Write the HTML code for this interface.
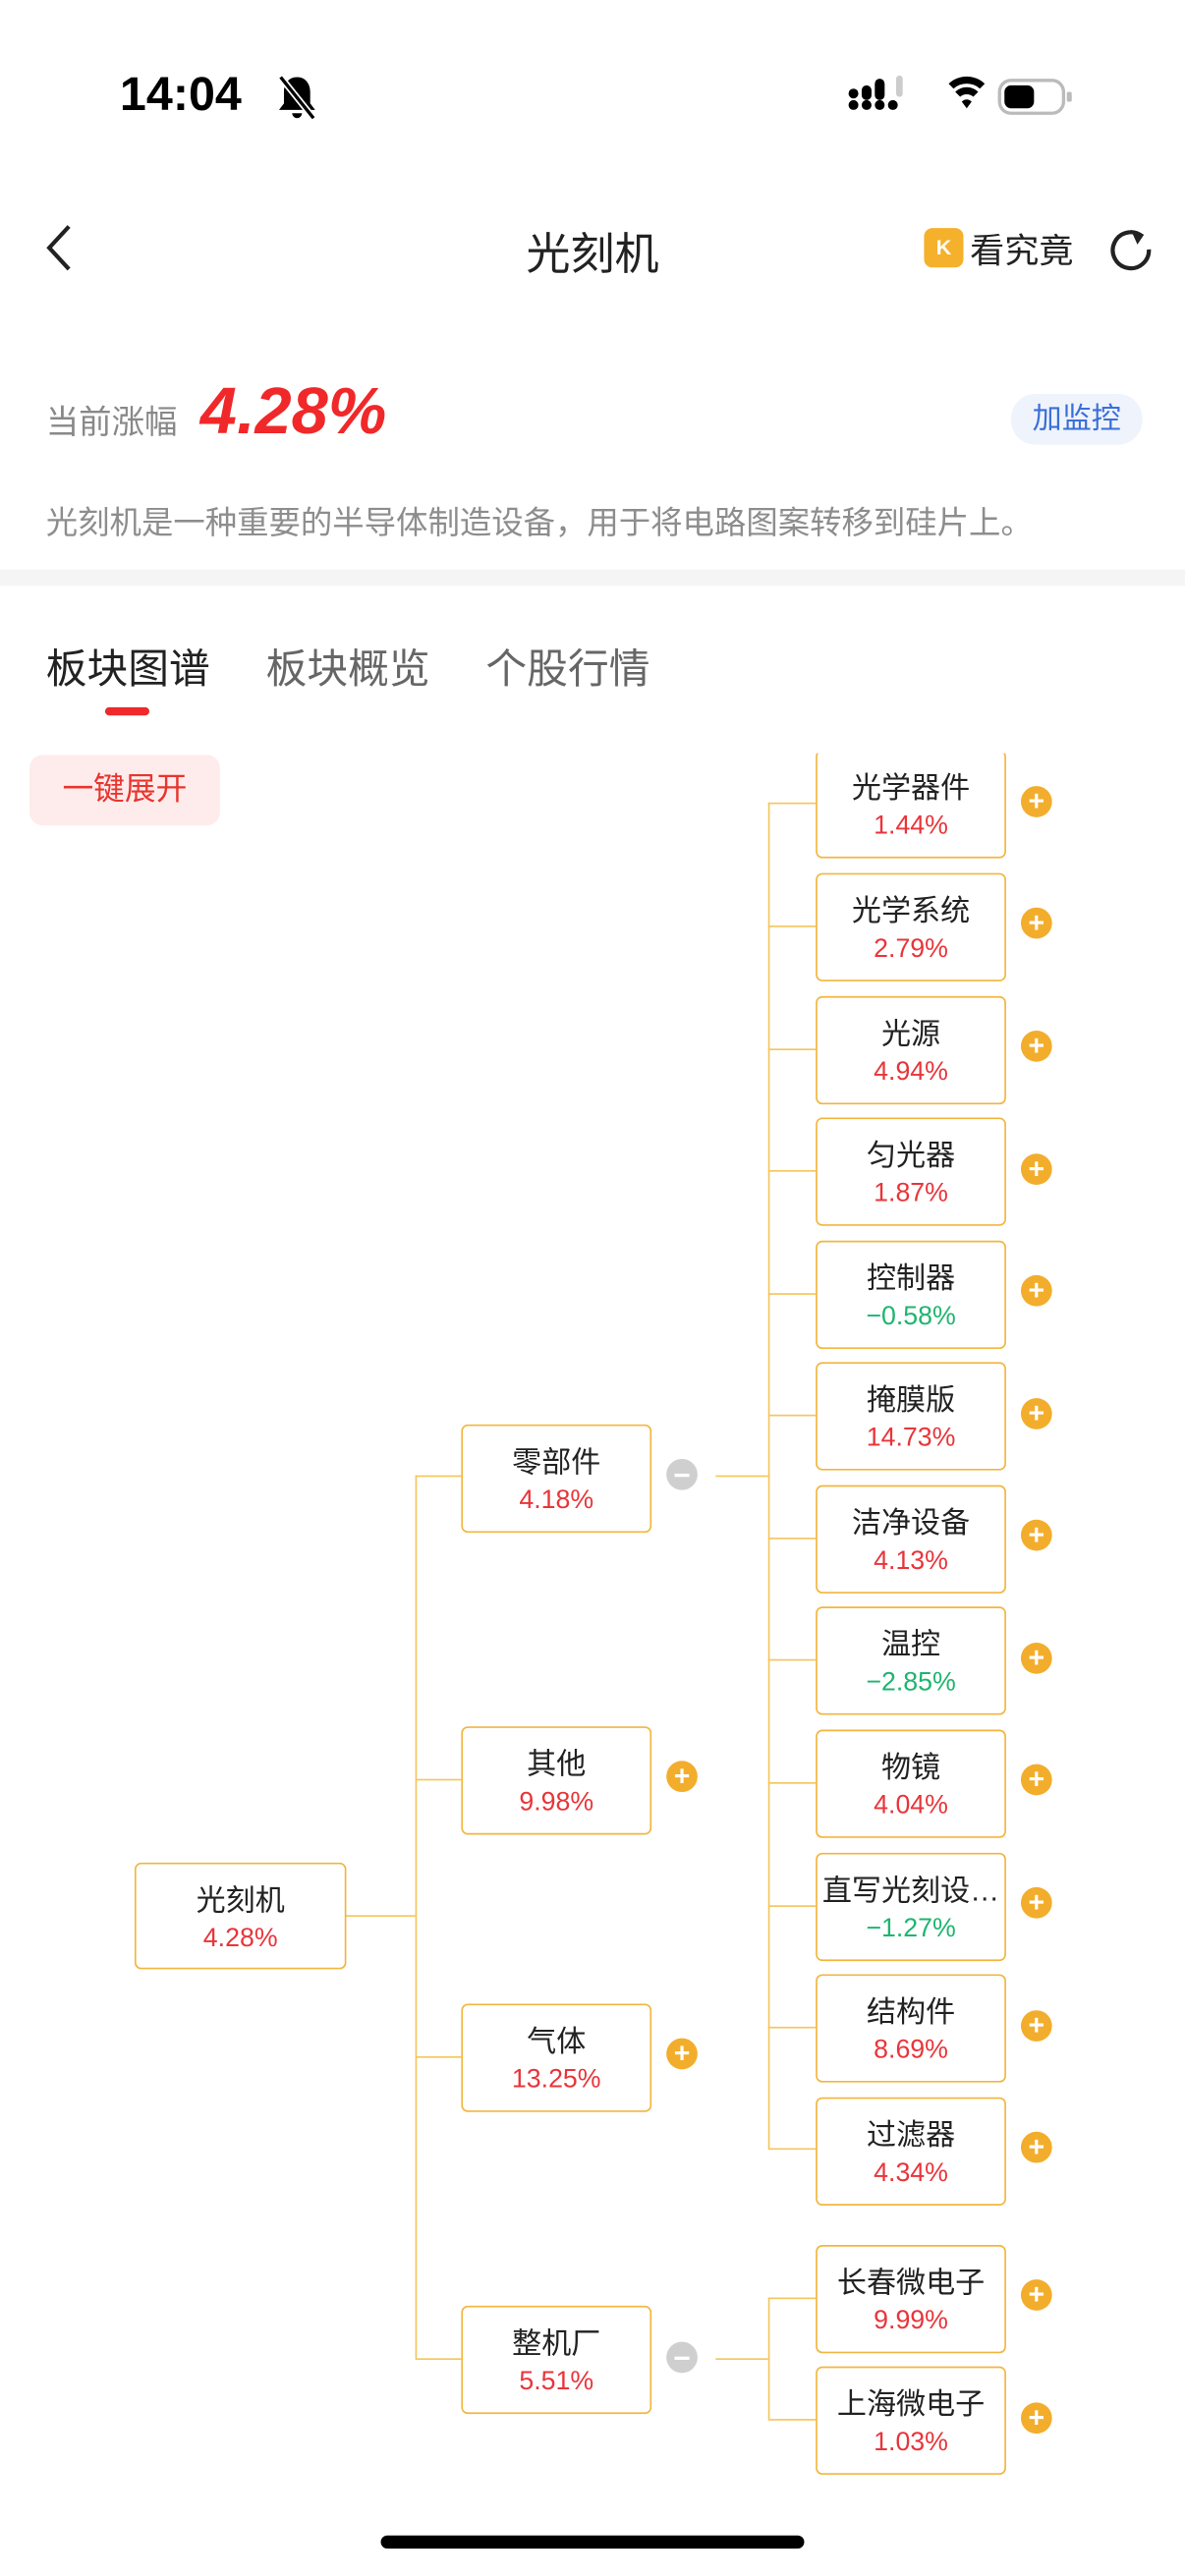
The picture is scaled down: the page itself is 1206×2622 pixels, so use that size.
<!DOCTYPE html>
<html><head><meta charset="utf-8"><style>
html,body{margin:0;padding:0;background:#fff;}
body{width:1206px;height:2622px;overflow:hidden;position:relative;}
#c{position:absolute;left:0;top:0;width:722px;height:1570px;transform:scale(1.67036);transform-origin:0 0;font-family:"Liberation Sans","Noto Sans CJK SC",sans-serif;}
.a{position:absolute;}
.box{position:absolute;background:#fff;border:1.5px solid #f2b640;border-radius:4px;box-sizing:border-box;text-align:center;}
.box .n{position:absolute;left:0;right:0;top:11px;font-size:18px;color:#222;line-height:22px;white-space:nowrap;}
.box .p{position:absolute;left:0;right:0;top:36px;font-size:16px;color:#e8353a;line-height:20px;}
.box .g{color:#1db56f;}
.l{position:absolute;background:#f4c65f;}
.plus{position:absolute;width:19px;height:19px;border-radius:50%;background:#f3ad2c;color:#fff;font-size:17px;line-height:19px;text-align:center;font-weight:bold;}
.minus{position:absolute;width:19px;height:19px;border-radius:50%;background:#cfcfcf;}
.minus:after{content:"";position:absolute;left:5px;top:8.5px;width:9px;height:2px;background:#fff;}
</style></head><body><div id="c">
<div class="a" style="left:73px;top:42px;font-size:29px;font-weight:bold;color:#000;">14:04</div>
<svg class="a" style="left:167px;top:44px" width="28" height="30" viewBox="0 0 28 30"><path d="M14 3c-5 0-8 4-8 9v7l-3 4h22l-3-4v-7c0-5-3-9-8-9z M11 25a3 3 0 0 0 6 0z" fill="#000"/><line x1="4" y1="3" x2="24" y2="28" stroke="#fff" stroke-width="4"/><line x1="4" y1="3" x2="24" y2="28" stroke="#000" stroke-width="2"/></svg>
<svg class="a" style="left:516px;top:46px" width="140" height="26"><g fill="#000"><circle cx="4" cy="18" r="3"/><circle cx="12" cy="18" r="3"/><circle cx="20" cy="18" r="3"/><circle cx="28" cy="18" r="3"/><circle cx="4" cy="11" r="3"/><rect x="9" y="6" width="6" height="9" rx="3"/><rect x="17" y="2" width="6" height="13" rx="3"/></g><rect x="30" y="0" width="4" height="13" rx="2" fill="#ccc"/><path d="M62 5a16 16 0 0 1 22 0l-3 3a12 12 0 0 0-16 0z M66 10a10 10 0 0 1 14 0l-3 3a6 6 0 0 0-8 0z M70 16l3 4 3-4a4 4 0 0 0-6 0z" fill="#000"/><rect x="93" y="3" width="39" height="20" rx="7" fill="none" stroke="#bbb" stroke-width="2"/><rect x="96" y="6" width="18" height="14" rx="4" fill="#000"/><rect x="134" y="10" width="3" height="6" rx="1" fill="#bbb"/></svg>
<svg class="a" style="left:26px;top:136px" width="20" height="30"><path d="M16 2L4 15l12 13" fill="none" stroke="#222" stroke-width="2.5"/></svg>
<div class="a" style="left:0;width:722px;top:133px;text-align:center;font-size:27px;color:#222;">光刻机</div>
<div class="a" style="left:563px;top:139px;width:24px;height:24px;border-radius:5px;background:#f5b12c;color:#fff;font-size:13px;font-weight:bold;line-height:24px;text-align:center;">K</div>
<div class="a" style="left:591px;top:137px;font-size:21px;color:#222;">看究竟</div>
<svg class="a" style="left:674px;top:137px" width="30" height="30"><path d="M22 7a11 11 0 1 0 4 8" fill="none" stroke="#222" stroke-width="2.5"/><path d="M15 3l8 3-4 6z" fill="#222"/></svg>
<div class="a" style="left:28px;top:241px;font-size:20px;color:#888;">当前涨幅</div>
<div class="a" style="left:122px;top:229px;font-size:40px;font-weight:bold;font-style:italic;color:#f0282a;">4.28%</div>
<div class="a" style="left:616px;top:240px;width:80px;height:31px;border-radius:15px;background:#eef3fc;color:#3a6fd8;font-size:18px;line-height:31px;text-align:center;">加监控</div>
<div class="a" style="left:28px;top:302px;font-size:19.4px;color:#8d8d8d;white-space:nowrap;">光刻机是一种重要的半导体制造设备，用于将电路图案转移到硅片上。</div>
<div class="a" style="left:0;top:347px;width:722px;height:10px;background:#f5f5f5;"></div>
<div class="a" style="left:28px;top:388px;font-size:25px;color:#222;">板块图谱</div>
<div class="a" style="left:162px;top:388px;font-size:25px;color:#666;">板块概览</div>
<div class="a" style="left:296px;top:388px;font-size:25px;color:#666;">个股行情</div>
<div class="a" style="left:64px;top:431px;width:27px;height:5px;border-radius:3px;background:#ee2a2a;"></div>
<div class="a" style="left:18px;top:460px;width:116px;height:43px;border-radius:8px;background:#fdeceb;color:#e8352f;font-size:19px;line-height:43px;text-align:center;">一键展开</div>

<div class="a" style="left:0;top:459px;width:722px;height:1050px;overflow:hidden;">
<div class="a" style="left:0;top:-459px;width:722px;height:1570px;">
<div class="l" style="left:468px;top:489px;width:1px;height:820px;"></div>
<div class="l" style="left:253px;top:899px;width:1px;height:538px;"></div>
<div class="l" style="left:210px;top:1167px;width:43px;height:1px;"></div>
<div class="l" style="left:253px;top:899px;width:28px;height:1px;"></div>
<div class="l" style="left:253px;top:1084px;width:28px;height:1px;"></div>
<div class="l" style="left:253px;top:1253px;width:28px;height:1px;"></div>
<div class="l" style="left:253px;top:1437px;width:28px;height:1px;"></div>
<div class="l" style="left:436px;top:899px;width:32px;height:1px;"></div>
<div class="l" style="left:436px;top:1437px;width:32px;height:1px;"></div>
<div class="l" style="left:468px;top:1400px;width:1px;height:74px;"></div>
<div class="l" style="left:468px;top:1400px;width:29px;height:1px;"></div>
<div class="l" style="left:468px;top:1474px;width:29px;height:1px;"></div>

<div class="box" style="left:82px;top:1135px;width:129px;height:65px;"><div class="n">光刻机</div><div class="p">4.28%</div></div>
<div class="box" style="left:281px;top:868px;width:116px;height:66px;"><div class="n">零部件</div><div class="p">4.18%</div></div><div class="minus" style="left:406px;top:889px;"></div>
<div class="box" style="left:281px;top:1052px;width:116px;height:66px;"><div class="n">其他</div><div class="p">9.98%</div></div><div class="plus" style="left:406px;top:1073px;">+</div>
<div class="box" style="left:281px;top:1221px;width:116px;height:66px;"><div class="n">气体</div><div class="p">13.25%</div></div><div class="plus" style="left:406px;top:1242px;">+</div>
<div class="box" style="left:281px;top:1405px;width:116px;height:66px;"><div class="n">整机厂</div><div class="p">5.51%</div></div><div class="minus" style="left:406px;top:1427px;"></div>

<div class="l" style="left:468px;top:489px;width:29px;height:1px;"></div><div class="box" style="left:497px;top:457px;width:116px;height:66px;"><div class="n">光学器件</div><div class="p">1.44%</div></div><div class="plus" style="left:622px;top:479px;">+</div>
<div class="l" style="left:468px;top:564px;width:29px;height:1px;"></div><div class="box" style="left:497px;top:532px;width:116px;height:66px;"><div class="n">光学系统</div><div class="p">2.79%</div></div><div class="plus" style="left:622px;top:553px;">+</div>
<div class="l" style="left:468px;top:639px;width:29px;height:1px;"></div><div class="box" style="left:497px;top:607px;width:116px;height:66px;"><div class="n">光源</div><div class="p">4.94%</div></div><div class="plus" style="left:622px;top:628px;">+</div>
<div class="l" style="left:468px;top:713px;width:29px;height:1px;"></div><div class="box" style="left:497px;top:681px;width:116px;height:66px;"><div class="n">匀光器</div><div class="p">1.87%</div></div><div class="plus" style="left:622px;top:703px;">+</div>
<div class="l" style="left:468px;top:788px;width:29px;height:1px;"></div><div class="box" style="left:497px;top:756px;width:116px;height:66px;"><div class="n">控制器</div><div class="p g">−0.58%</div></div><div class="plus" style="left:622px;top:777px;">+</div>
<div class="l" style="left:468px;top:862px;width:29px;height:1px;"></div><div class="box" style="left:497px;top:830px;width:116px;height:66px;"><div class="n">掩膜版</div><div class="p">14.73%</div></div><div class="plus" style="left:622px;top:852px;">+</div>
<div class="l" style="left:468px;top:937px;width:29px;height:1px;"></div><div class="box" style="left:497px;top:905px;width:116px;height:66px;"><div class="n">洁净设备</div><div class="p">4.13%</div></div><div class="plus" style="left:622px;top:926px;">+</div>
<div class="l" style="left:468px;top:1011px;width:29px;height:1px;"></div><div class="box" style="left:497px;top:979px;width:116px;height:66px;"><div class="n">温控</div><div class="p g">−2.85%</div></div><div class="plus" style="left:622px;top:1001px;">+</div>
<div class="l" style="left:468px;top:1086px;width:29px;height:1px;"></div><div class="box" style="left:497px;top:1054px;width:116px;height:66px;"><div class="n">物镜</div><div class="p">4.04%</div></div><div class="plus" style="left:622px;top:1075px;">+</div>
<div class="l" style="left:468px;top:1161px;width:29px;height:1px;"></div><div class="box" style="left:497px;top:1129px;width:116px;height:66px;"><div class="n">直写光刻设…</div><div class="p g">−1.27%</div></div><div class="plus" style="left:622px;top:1150px;">+</div>
<div class="l" style="left:468px;top:1235px;width:29px;height:1px;"></div><div class="box" style="left:497px;top:1203px;width:116px;height:66px;"><div class="n">结构件</div><div class="p">8.69%</div></div><div class="plus" style="left:622px;top:1225px;">+</div>
<div class="l" style="left:468px;top:1309px;width:29px;height:1px;"></div><div class="box" style="left:497px;top:1278px;width:116px;height:66px;"><div class="n">过滤器</div><div class="p">4.34%</div></div><div class="plus" style="left:622px;top:1299px;">+</div>
<div class="box" style="left:497px;top:1368px;width:116px;height:66px;"><div class="n">长春微电子</div><div class="p">9.99%</div></div><div class="plus" style="left:622px;top:1389px;">+</div>
<div class="box" style="left:497px;top:1442px;width:116px;height:66px;"><div class="n">上海微电子</div><div class="p">1.03%</div></div><div class="plus" style="left:622px;top:1464px;">+</div>
</div></div>
<div class="a" style="left:232px;top:1545px;width:258px;height:8px;border-radius:4px;background:#000;"></div>
</div></body></html>
